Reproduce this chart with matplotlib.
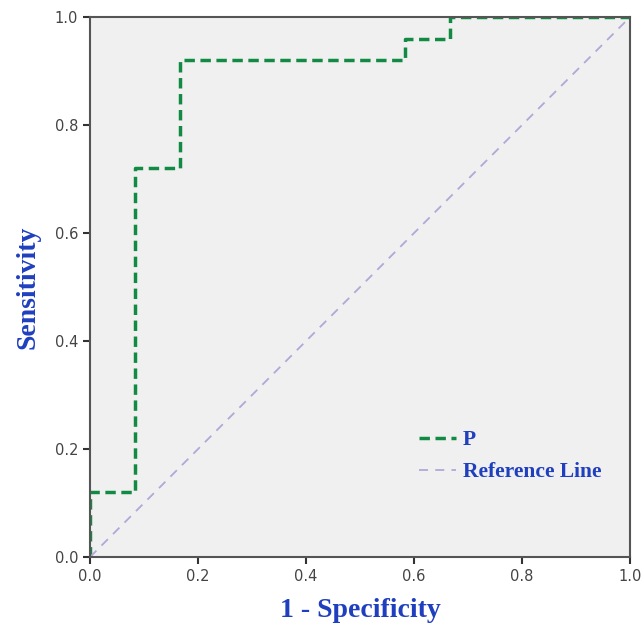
import numpy as np
import matplotlib.pyplot as plt

fpr = [0.0, 0.0, 0.083, 0.083, 0.167, 0.167, 0.583, 0.583, 0.667, 0.667, 1.0]
tpr = [0.0, 0.12, 0.12, 0.72, 0.72, 0.92, 0.92, 0.96, 0.96, 1.0, 1.0]
ref = [0.0, 1.0]
ticks = [0.0, 0.2, 0.4, 0.6, 0.8, 1.0]

blue = '#1f3fbf'
label_font = dict(family='Liberation Serif', weight='bold', color=blue)

fig = plt.figure(figsize=(6.43, 6.28), dpi=100)
ax = fig.add_axes([0.14, 0.113, 0.84, 0.86])
ax.set_facecolor('#f0f0f0')

ax.plot(fpr, tpr, color='#138a43', lw=2.5, ls=(0, (3, 1.6)), label='P')
ax.plot(ref, ref, color='#b0a8d8', lw=1.3, ls=(0, (5, 4)), label='Reference Line')

ax.set_xlim(0, 1)
ax.set_ylim(0, 1)
ax.set_xticks(ticks)
ax.set_yticks(ticks)
ax.set_xticklabels([f'{t:.1f}' for t in ticks])
ax.set_yticklabels([f'{t:.1f}' for t in ticks])
ax.tick_params(direction='out', length=5, width=1.5, color='#333333',
               labelsize=10.5, labelcolor='#444444')
for s in ax.spines.values():
    s.set_color('#555555')
    s.set_linewidth(1.5)

ax.set_xlabel('1 - Specificity', fontsize=20, labelpad=10, **label_font)
ax.set_ylabel('Sensitivity', fontsize=20, labelpad=10, **label_font)

leg = ax.legend(loc='upper left', bbox_to_anchor=(0.59, 0.255), frameon=False,
                borderpad=0, handlelength=1.7, handletextpad=0.3, labelspacing=0.55,
                prop=dict(family='Liberation Serif', weight='bold', size=15.5))
for t in leg.get_texts():
    t.set_color(blue)

fig.savefig('out.png', dpi=100)
